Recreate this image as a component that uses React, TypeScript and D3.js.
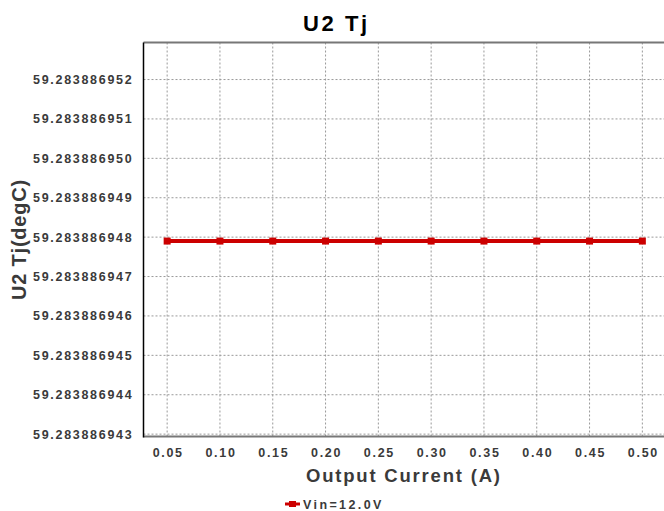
import React from "react";
import * as d3 from "d3";

const xValues = [0.05, 0.1, 0.15, 0.2, 0.25, 0.3, 0.35, 0.4, 0.45, 0.5];
const yValues = [
  59.2838869479, 59.2838869479, 59.2838869479, 59.2838869479, 59.2838869479,
  59.2838869479, 59.2838869479, 59.2838869479, 59.2838869479, 59.2838869479,
];
const xTickLabels = ["0.05", "0.10", "0.15", "0.20", "0.25", "0.30", "0.35", "0.40", "0.45", "0.50"];
const yTickLabels = [
  "59.283886943", "59.283886944", "59.283886945", "59.283886946", "59.283886947",
  "59.283886948", "59.283886949", "59.283886950", "59.283886951", "59.283886952",
];
const seriesName = "Vin=12.0V";
const title = "U2 Tj";
const xTitle = "Output Current (A)";
const yTitle = "U2 Tj(degC)";

export default function App() {
  const W = 664, H = 511;
  const left = 143.5, top = 42.5, right = 666, bottom = 436.5;
  const x = d3.scaleLinear().domain([0.0276, 0.5224]).range([left, right]);
  const y = d3.scaleLinear().domain([59.28388694294, 59.28388695294]).range([bottom, top]);
  const pts = xValues.map((v, i) => [x(v), y(yValues[i])] as [number, number]);
  const line = d3.line()(pts) || "";
  const font = "Arial, 'Liberation Sans', sans-serif";
  return (
    <div style={{ position: "absolute", left: 0, top: 0 }}>
      <svg width={W} height={H} style={{ display: "block" }} fontFamily={font}>
        <rect width={W} height={H} fill="#fff" />
        <text x={303} y={31} fontWeight="bold" fontSize={22} letterSpacing={2.6} fill="#000">{title}</text>
        {xTickLabels.map((t) => (
          <line key={"gx" + t} x1={x(+t)} x2={x(+t)} y1={top} y2={bottom} stroke="#999" strokeDasharray="2,2" />
        ))}
        {yTickLabels.map((t) => (
          <line key={"gy" + t} x1={left} x2={right} y1={y(+t)} y2={y(+t)} stroke="#999" strokeDasharray="2,2" />
        ))}
        <line x1={left} x2={right} y1={top} y2={top} stroke="#777" strokeWidth={2} />
        <line x1={left} x2={right} y1={bottom} y2={bottom} stroke="#777" strokeWidth={2} />
        <line x1={left} x2={left} y1={top} y2={bottom + 1} stroke="#000" strokeWidth={1.5} />
        {yTickLabels.map((t) => (
          <text key={"ly" + t} x={33} y={y(+t) + 4.5} fontSize={12.5} fontWeight="bold" letterSpacing={1.7} fill="#3a3a3a">{t}</text>
        ))}
        {xTickLabels.map((t) => (
          <text key={"lx" + t} x={x(+t) - 14.5} y={457} fontSize={12.5} fontWeight="bold" letterSpacing={1.7} fill="#3a3a3a">{t}</text>
        ))}
        <text x={306} y={482} fontSize={18.5} fontWeight="bold" letterSpacing={1.8} fill="#3a3a3a">{xTitle}</text>
        <text transform="translate(25.5,300) rotate(-90)" fontSize={20} fontWeight="bold" letterSpacing={0.8} fill="#3a3a3a">{yTitle}</text>
        <path d={line} fill="none" stroke="#cc0000" strokeWidth={4} />
        {pts.map((p, i) => (
          <rect key={"m" + i} x={p[0] - 3.5} y={p[1] - 3.5} width={7} height={7} fill="#cc0000" />
        ))}
        <line x1={285} x2={300} y1={504} y2={504} stroke="#cc0000" strokeWidth={3} />
        <rect x={289} y={501} width={7} height={6} fill="#cc0000" />
        <text x={303} y={509} fontSize={12.5} fontWeight="bold" letterSpacing={2.4} fill="#3a3a3a">{seriesName}</text>
      </svg>
    </div>
  );
}
